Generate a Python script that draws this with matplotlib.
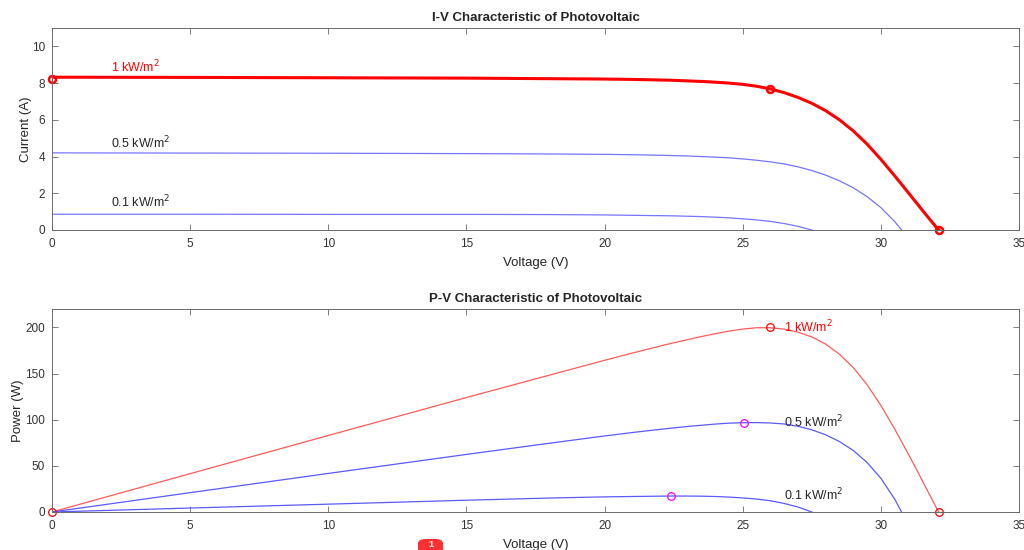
import matplotlib
matplotlib.use("Agg")
import matplotlib.pyplot as plt
from matplotlib.patches import FancyBboxPatch
import numpy as np

plt.rcParams['font.family'] = ['Liberation Sans', 'DejaVu Sans']

# values
v_1k = [0, 5, 10, 15, 20, 21, 22, 22.5, 23, 23.5, 24, 24.5, 25, 25.5, 26, 26.5, 27, 27.5,
        28, 28.5, 29, 29.5, 30, 30.5, 31, 31.5, 32, 32.1]
i_1k = [8.32, 8.31, 8.29, 8.27, 8.22, 8.20, 8.17, 8.15, 8.12, 8.09, 8.05, 8.00, 7.93, 7.83,
        7.68, 7.48, 7.22, 6.90, 6.50, 6.00, 5.40, 4.68, 3.85, 2.95, 2.02, 1.08, 0.16, 0.0]

v_05 = [0, 5, 10, 15, 18, 20, 21, 22, 23, 24, 24.5, 25, 25.5, 26, 26.5, 27, 27.5, 28,
        28.5, 29, 29.5, 30, 30.5, 30.75]
i_05 = [4.2, 4.19, 4.18, 4.16, 4.14, 4.12, 4.10, 4.07, 4.03, 3.97, 3.93, 3.87, 3.80, 3.71,
        3.60, 3.44, 3.24, 2.99, 2.68, 2.30, 1.82, 1.22, 0.46, 0.0]

v_01 = [0, 5, 10, 15, 18, 19, 20, 21, 22, 22.5, 23, 23.5, 24, 24.5, 25, 25.5, 26, 26.5,
        27, 27.3, 27.5]
i_01 = [0.86, 0.86, 0.85, 0.85, 0.84, 0.83, 0.82, 0.80, 0.78, 0.77, 0.75, 0.73, 0.70, 0.66,
        0.61, 0.55, 0.47, 0.35, 0.20, 0.08, 0.0]

# marked points
iv_pts_v = [0, 26.0, 32.1]
iv_pts_i = [8.2, 7.68, 0.0]
pv_red_v = [0, 26.0, 32.1]
pv_red_p = [0, 200, 0]
pv_mag_v = [25.05, 22.4]
pv_mag_p = [96.5, 17.3]

labels = ['1 kW/m$^2$', '0.5 kW/m$^2$', '0.1 kW/m$^2$']

p_1k = np.array(v_1k) * np.array(i_1k)
p_05 = np.array(v_05) * np.array(i_05)
p_01 = np.array(v_01) * np.array(i_01)

fig = plt.figure(figsize=(10.24, 5.5), dpi=100)
ax1 = fig.add_axes([52/1024, 1-230/550, 967/1024, 202/550])
ax2 = fig.add_axes([52/1024, 1-512/550, 967/1024, 203/550])

blue = '#7575ff'
txtc = '#262626'

def style(ax):
    ax.set_xlim(0, 35)
    ax.set_xticks(range(0, 36, 5))
    ax.tick_params(direction='in', top=True, right=True, length=4, width=0.6,
                   colors='#6a6a6a', labelcolor='#333333', labelsize=8.5)
    ax.tick_params(axis='x', pad=6)
    ax.tick_params(axis='y', pad=5)
    for s in ax.spines.values():
        s.set_color('#6a6a6a')
        s.set_linewidth(0.7)

# I-V
ax1.plot(v_05, i_05, color=blue, lw=0.9)
ax1.plot(v_01, i_01, color=blue, lw=0.9)
ax1.plot(v_1k, i_1k, color='red', lw=2.2)
ax1.plot(iv_pts_v, iv_pts_i, 'o', ms=5, mfc='none', mec='red', mew=1.8, clip_on=False)
ax1.set_ylim(0, 11)
ax1.set_yticks(range(0, 11, 2))
style(ax1)
ax1.set_title('I-V Characteristic of Photovoltaic', fontsize=9.5, fontweight='bold', color=txtc, pad=5)
ax1.set_xlabel('Voltage (V)', fontsize=9.5, color=txtc, labelpad=5)
ax1.set_ylabel('Current (A)', fontsize=9.5, color=txtc, labelpad=0)
ax1.text(2.14, 8.9, labels[0], color='red', fontsize=9, va='center')
ax1.text(2.14, 4.75, labels[1], color=txtc, fontsize=9, va='center')
ax1.text(2.14, 1.5, labels[2], color=txtc, fontsize=9, va='center')

# P-V
ax2.plot(v_1k, p_1k, color='#ff5a5a', lw=0.9)
ax2.plot(v_05, p_05, color='#5a5aff', lw=0.9)
ax2.plot(v_01, p_01, color='#5a5aff', lw=0.9)
ax2.plot(pv_red_v, pv_red_p, 'o', ms=5.5, mfc='none', mec='red', mew=0.9, clip_on=False)
ax2.plot(pv_mag_v, pv_mag_p, 'o', ms=5.5, mfc='none', mec='magenta', mew=0.9)
ax2.set_ylim(0, 220)
ax2.set_yticks(range(0, 201, 50))
style(ax2)
ax2.set_title('P-V Characteristic of Photovoltaic', fontsize=9.5, fontweight='bold', color=txtc, pad=5)
ax2.set_xlabel('Voltage (V)', fontsize=9.5, color=txtc, labelpad=5)
ax2.set_ylabel('Power (W)', fontsize=9.5, color=txtc, labelpad=1)
ax2.text(26.5, 200, labels[0], color='red', fontsize=9, va='center')
ax2.text(26.5, 98, labels[1], color=txtc, fontsize=9, va='center')
ax2.text(26.5, 18.4, labels[2], color=txtc, fontsize=9, va='center')

# small red badge cut off at the bottom edge
badge = FancyBboxPatch((418/1024, -12/550), 25/1024, 23/550,
                       boxstyle='round,pad=0,rounding_size=0.008',
                       transform=fig.transFigure, fc='#ff3030', ec='none')
fig.patches.append(badge)
fig.text(430.5/1024, 1/550, '1', color='white', fontsize=6.5, fontweight='bold',
         ha='center', va='bottom')

fig.savefig('out.png', dpi=100)
